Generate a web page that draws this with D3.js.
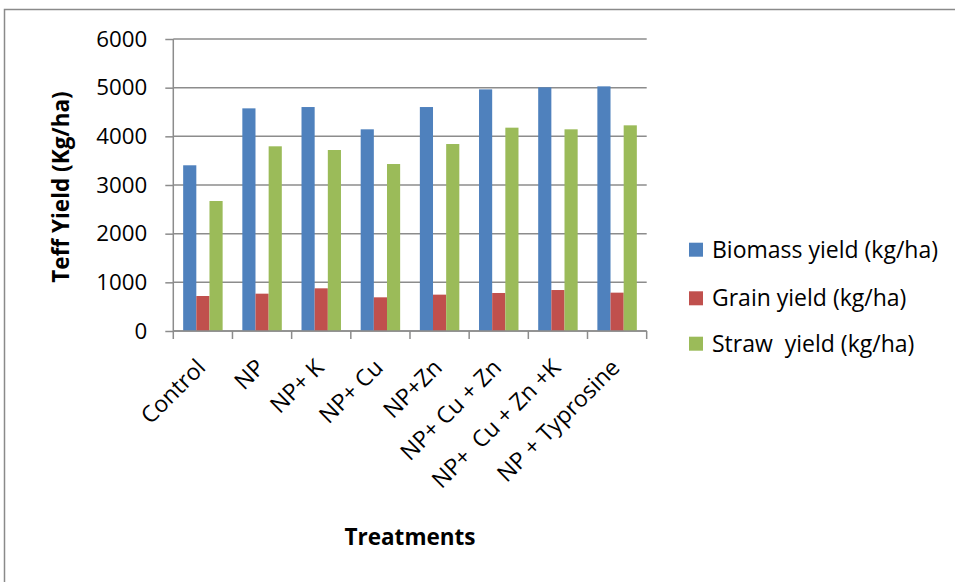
<!DOCTYPE html>
<html><head><meta charset="utf-8">
<script src="https://cdn.jsdelivr.net/npm/d3@7"></script>
<style>body{margin:0;background:#fff}text{font-family:"Open Sans",sans-serif}</style>
</head><body><svg id="c" width="955" height="582"></svg>
<script>
const categories = ["Control","NP","NP+ K","NP+ Cu","NP+Zn","NP+ Cu + Zn","NP+  Cu + Zn +K","NP + Typrosine"];
const biomass = [3405, 4575, 4602, 4144, 4602, 4965, 5007, 5027];
const grain = [719, 767, 877, 692, 747, 781, 842, 788];
const straw = [2671, 3795, 3719, 3431, 3842, 4178, 4144, 4226];
const seriesNames = ["Biomass yield (kg/ha)","Grain yield (kg/ha)","Straw  yield (kg/ha)"];
const colors = ["#4F81BD","#C0504D","#9BBB59"];
const yTicks = [0,1000,2000,3000,4000,5000,6000];

const svg = d3.select("#c");
const m = {l:173.3, r:646.7, t:39, b:331};
// outer frame
svg.append("path").attr("d","M4.5,582 V9.5 H955").attr("fill","none").attr("stroke","#8a8a8a").attr("stroke-width",1.5);

const x = d3.scaleBand().domain(categories).range([m.l,m.r]).paddingInner(0.333).paddingOuter(0.1667);
const x1 = d3.scaleBand().domain([0,1,2]).range([0,x.bandwidth()]);
const y = d3.scaleLinear().domain([0,6000]).range([m.b,m.t]);

// gridlines
svg.append("g").selectAll("line").data(yTicks).join("line")
  .attr("x1",m.l).attr("x2",m.r).attr("y1",d=>y(d)).attr("y2",d=>y(d))
  .attr("stroke","#8c8c8c").attr("stroke-width",1.5);

// bars
const data = [biomass, grain, straw];
const g = svg.append("g");
categories.forEach((c,i)=>{
  data.forEach((s,j)=>{
    g.append("rect").attr("x",x(c)+x1(j)).attr("width",x1.bandwidth())
      .attr("y",y(s[i])).attr("height",y(0)-y(s[i])).attr("fill",colors[j]);
  });
});

// y axis
const ya = svg.append("g").attr("transform",`translate(${m.l},0)`)
  .call(d3.axisLeft(y).tickValues(yTicks).tickSize(8).tickPadding(18).tickFormat(d3.format("d")));
ya.select(".domain").attr("stroke","#8c8c8c").attr("stroke-width",1.5).attr("d",`M0,${m.t}V${m.b}`);
ya.selectAll(".tick line").attr("stroke","#8c8c8c").attr("stroke-width",1.5);
ya.selectAll("text").attr("font-size",22.3).attr("fill","#000").style("font-family","Open Sans");

// x axis
const xa = svg.append("g");
xa.append("line").attr("x1",m.l).attr("x2",m.r).attr("y1",m.b).attr("y2",m.b).attr("stroke","#8c8c8c").attr("stroke-width",1.5);
const step = x.step();
const bounds = d3.range(categories.length+1).map(i=>m.l+i*step);
xa.selectAll("line.t").data(bounds).join("line").attr("class","t")
  .attr("x1",d=>d).attr("x2",d=>d).attr("y1",m.b).attr("y2",m.b+8).attr("stroke","#8c8c8c").attr("stroke-width",1.5);
xa.selectAll("text").data(categories).join("text")
  .attr("transform",d=>`translate(${x(d)+x.bandwidth()/2+4},${m.b+38}) rotate(-45)`)
  .attr("text-anchor","end").attr("font-size",23).attr("fill","#000").text(d=>d)
  .style("white-space","pre");

// axis titles
svg.append("text").attr("transform","translate(69,187) rotate(-90)").attr("text-anchor","middle")
  .attr("font-size",22.5).attr("font-weight","bold").text("Teff Yield (Kg/ha)");
svg.append("text").attr("x",410).attr("y",545).attr("text-anchor","middle")
  .attr("font-size",22.5).attr("font-weight","bold").text("Treatments");

// legend
const ly = [249.7, 298.3, 343.7];
seriesNames.forEach((n,j)=>{
  svg.append("rect").attr("x",689).attr("y",ly[j]-7).attr("width",14).attr("height",14).attr("fill",colors[j]);
  svg.append("text").attr("x",712).attr("y",ly[j]).attr("dy","0.35em").attr("font-size",23)
    .style("white-space","pre").text(n);
});
</script></body></html>
